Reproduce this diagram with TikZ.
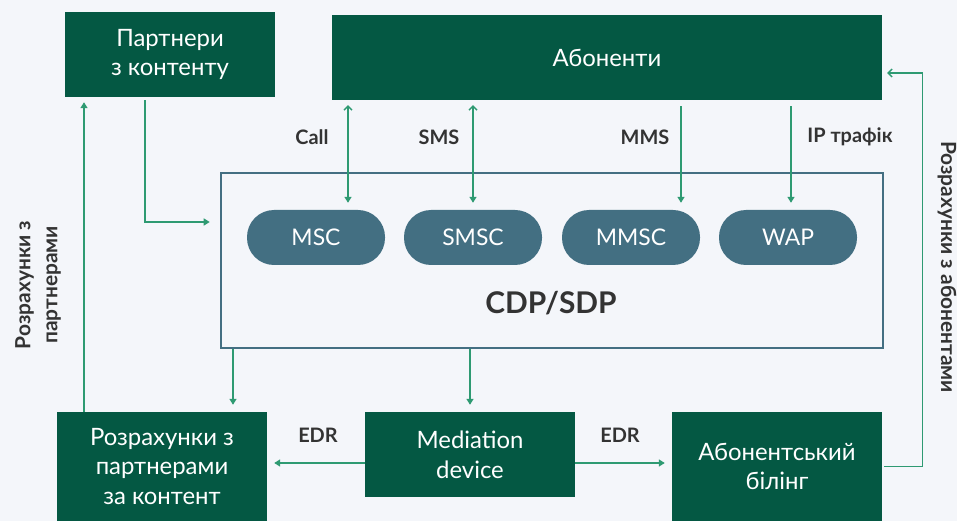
\documentclass[tikz,border=0pt]{standalone}
\usepackage{fontspec}
\setmainfont{Lato}
\usetikzlibrary{calc,arrows.meta}

\definecolor{bgcol}{HTML}{F4F6FA}
\definecolor{boxgreen}{HTML}{045843}
\definecolor{pillblue}{HTML}{436F82}
\definecolor{linkgreen}{HTML}{2E9A72}
\definecolor{labelgray}{HTML}{333333}

\tikzset{
	greenbox/.style={fill=boxgreen, text=white, inner sep=0pt, align=center,
		font=\fontsize{24}{30}\selectfont},
	pill/.style={fill=pillblue, text=white, rounded corners=27bp, inner sep=0pt,
		minimum width=138bp, minimum height=55bp, font=\fontsize{23}{26}\selectfont},
	link/.style={draw=linkgreen, line width=1.4bp, -{Triangle[length=6bp,width=7bp]}},
	backlink/.style={draw=linkgreen, line width=1.4bp, -{Straight Barb[length=4bp,width=8bp]}},
	twoway/.style={draw=linkgreen, line width=1.4bp,
		{Straight Barb[length=4bp,width=8bp]}-{Triangle[length=6bp,width=7bp]}},
	lbl/.style={text=labelgray, font=\bfseries\fontsize{20}{24}\selectfont},
	sidelbl/.style={text=labelgray, align=center, font=\bfseries\fontsize{21}{27}\selectfont},
}

\begin{document}
\begin{tikzpicture}[x=1bp, y=-1bp]
		%%%%% START %%%%%
		
		\fill[bgcol] (0, 0) rectangle (957, 521);
		\useasboundingbox (0, 0) rectangle (957, 521);
		
		% top row
		\node[greenbox, minimum width=210bp, minimum height=85bp] (partners) at (170, 54.5) {Партнери\\з контенту};
		\node[greenbox, minimum width=550bp, minimum height=85bp] (subs) at (607, 57.5) {Абоненти};
		
		% platform frame with its pills
		\node[draw=pillblue, line width=2.5bp, fill=bgcol, minimum width=662bp, minimum height=175bp] (cdp) at (552, 260.5) {};
		\node[text=labelgray, font=\bfseries\fontsize{30}{34}\selectfont] (cdplbl) at (551, 303) {CDP/SDP};
		
		\node[pill] (msc) at (316, 237.5) {MSC};
		\node[pill] (smsc) at (473, 237.5) {SMSC};
		\node[pill] (mmsc) at (631, 237.5) {MMSC};
		\node[pill] (wap) at (788, 237.5) {WAP};
		
		% bottom row
		\node[greenbox, minimum width=210bp, minimum height=109bp] (settle) at (162, 466.5) {Розрахунки з\\партнерами\\за контент};
		\node[greenbox, minimum width=210bp, minimum height=85bp] (med) at (470, 454.5) {Mediation\\device};
		\node[greenbox, minimum width=210bp, minimum height=109bp] (bill) at (777, 466.5) {Абонентський\\білінг};
		
		% side captions
		\node[sidelbl, rotate=90] (partnerpay) at (38, 285) {Розрахунки з\\партнерами};
		\node[sidelbl, rotate=-90] (subspay) at (947, 267) {Розрахунки з абонентами};
		
		% traffic columns
		\coordinate (callx) at (348, 0);
		\coordinate (smsx) at (473, 0);
		\coordinate (mmsx) at (681, 0);
		\coordinate (ipx) at (791, 0);
		
		\draw[twoway, shorten <=5bp, shorten >=7bp] (subs.south -| callx) -- (msc.north -| callx);
		\draw[twoway, shorten <=5bp, shorten >=7bp] (subs.south -| smsx) -- (smsc.north -| smsx);
		\draw[link, shorten <=6bp, shorten >=7bp] (subs.south -| mmsx) -- (mmsc.north -| mmsx);
		\draw[link, shorten <=6bp, shorten >=7bp] (subs.south -| ipx) -- (wap.north -| ipx);
		
		\node[lbl] (calllbl) at (312, 137) {Call};
		\node[lbl] (smslbl) at (439, 137) {SMS};
		\node[lbl] (mmslbl) at (645, 137) {MMS};
		\node[lbl] (iplbl) at (850, 137) {IP трафік};
		
		% content partners
		\draw[link, shorten <=3bp, shorten >=10bp] ([xshift=-25bp]partners.south) |- ($(cdp.west)+(0,-38.5)$);
		\coordinate (leftx) at (84, 0);
		\draw[link, shorten >=5bp] (settle.north -| leftx) -- (partners.south -| leftx);
		
		% out of the platform
		\coordinate (dropx) at (233, 0);
		\draw[link, shorten >=7bp] (cdp.south -| dropx) -- (settle.north -| dropx);
		\draw[link, shorten >=7bp] (cdp.south -| med.north) -- (med.north);
		
		% records
		\coordinate (edry) at (0, 463);
		\draw[link, shorten >=7bp] (med.west |- edry) -- (settle.east |- edry);
		\draw[link, shorten >=7bp] (med.east |- edry) -- (bill.west |- edry);
		\node[lbl] (edrleft) at (318, 435) {EDR};
		\node[lbl] (edrright) at (620, 435) {EDR};
		
		% billing back to subscribers
		\draw[backlink, shorten <=2bp, shorten >=5bp] (bill.east) -- ++(40, 0) |- ($(subs.east)+(0, 15.5)$);
		
		%%%%% END %%%%%
	\end{tikzpicture}
\end{document}
